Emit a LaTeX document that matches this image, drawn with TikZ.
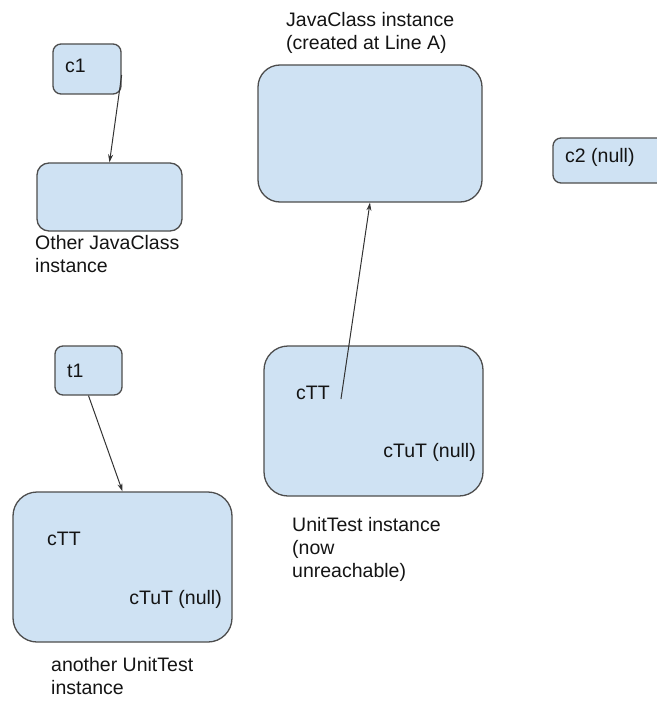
\documentclass[tikz,border=0pt]{standalone}
\usepackage{fontspec}
\setmainfont{Liberation Sans}
\usetikzlibrary{arrows.meta}
\definecolor{boxfill}{HTML}{CFE2F3}
\definecolor{boxline}{HTML}{4D4D4D}

\begin{document}
\begin{tikzpicture}[x=1pt, y=-1pt,
    box/.style={draw=boxline, fill=boxfill, line width=1.3pt, inner sep=0pt},
    txt/.style={anchor=base west, inner sep=0pt, align=left, text=black!92,
                font=\fontsize{19.5}{23}\selectfont},
    ptr/.style={-{Stealth[length=8pt,width=5pt]}, line width=1pt, draw=black!80}]
  \path[use as bounding box] (0,0) rectangle (656,706);

  % references c1, t1, c2
  \node[box, minimum width=68pt, minimum height=50pt, rounded corners=8pt] (c1) at (87,69) {};
  \node[txt] (c1lbl) at (65,73) {c1};
  \node[box, minimum width=67pt, minimum height=49pt, rounded corners=8pt] (t1) at (88.5,370.5) {};
  \node[txt] (t1lbl) at (67,377) {t1};
  \node[box, minimum width=167pt, minimum height=45pt, rounded corners=8pt] (c2) at (636.5,160.5) {};
  \node[txt] (c2lbl) at (565,162) {c2 (null)};

  % JavaClass objects (multi-line labels sit on their last baseline)
  \node[box, minimum width=145pt, minimum height=68pt, rounded corners=12pt] (oj) at (109.5,197) {};
  \node[txt] (ojlbl) at (35,272) {Other JavaClass\\instance};
  \node[box, minimum width=224pt, minimum height=137pt, rounded corners=22pt] (jc) at (370,133.5) {};
  \node[txt] (jclbl) at (286,50) {JavaClass instance\\(created at Line A)};

  % UnitTest objects
  \node[box, minimum width=219pt, minimum height=150pt, rounded corners=24pt] (ut) at (373.5,421) {};
  \node[txt] (utTT) at (296,399) {cTT};
  \node[txt, anchor=base east] (utTuT) at (476,457) {cTuT (null)};
  \node[txt] (utlbl) at (292,577) {UnitTest instance\\(now\\unreachable)};

  \node[box, minimum width=219pt, minimum height=150pt, rounded corners=24pt] (aut) at (122.5,567) {};
  \node[txt] (autTT) at (47,545) {cTT};
  \node[txt, anchor=base east] (autTuT) at (222,604) {cTuT (null)};
  \node[txt] (autlbl) at (51,694) {another UnitTest\\instance};

  % pointers
  \draw[ptr] ([yshift=-6pt]c1.east) -- (oj.north);
  \draw[ptr] (t1.south) -- (aut.north);
  \draw[ptr] ([xshift=11pt]utTT.base east) -- (jc.south);
\end{tikzpicture}
\end{document}
